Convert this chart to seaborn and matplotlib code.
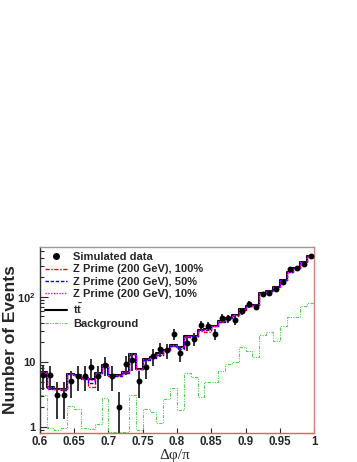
import numpy as np
import pandas as pd
import matplotlib
matplotlib.use("Agg")
import matplotlib.pyplot as plt
import matplotlib.ticker as mtick
from matplotlib.lines import Line2D
import seaborn as sns

# bins in dphi/pi, 0.01 wide from 0.6 to 1.0
binEdges = [round(v, 3) for v in np.linspace(0.6, 1.0, 41)]
binCenters = [round(0.5 * (a + b), 4) for a, b in zip(binEdges[:-1], binEdges[1:])]

dataValues = [6.2, 6.2, 3.1, 3.1, 5.1, 6.1, 6.1, 8.3, 6.1, 9.0,
              6.1, 2.0, 9.4, 10.6, 5.1, 8.3, 12.3, 15.7, 15.1, 26.5,
              13.7, 19.2, 22.6, 36.7, 35.4, 26.7, 47.5, 46.5, 43.7, 60,
              77, 70, 110, 115, 130, 166, 265, 274, 318, 422]
ttbarValues = [7.0, 4.1, 3.9, 3.8, 6.6, 6.3, 5.6, 5.5, 6.8, 8.9,
               6.2, 6.2, 6.9, 13.2, 7.9, 10.9, 11.7, 13.5, 15.5, 18,
               17, 24.8, 24.8, 30.7, 32.6, 35.5, 42, 47.5, 52, 64,
               72, 75, 115, 124, 140, 181, 243, 274, 346, 422]
zp100Values = [6.8, 3.9, 3.8, 3.7, 6.5, 6.2, 5.5, 4.1, 6.7, 8.7,
               6.0, 6.1, 6.8, 12.8, 7.8, 10.7, 11.5, 12.6, 15.2, 17.6,
               15.6, 24.3, 24.5, 30.2, 28.5, 35.0, 41.5, 47.0, 51.5, 63,
               71, 74, 114, 123, 139, 180, 242, 273, 345, 421]
zp50Values = [6.9, 4.0, 3.85, 3.75, 6.55, 6.25, 5.55, 4.75, 6.75, 8.8,
              6.1, 6.15, 6.85, 13.0, 7.85, 10.8, 11.6, 13.0, 15.3, 17.8,
              16.3, 24.5, 24.6, 30.4, 30.5, 35.2, 41.7, 47.2, 51.7, 63.5,
              71.5, 74.5, 114.5, 123.5, 139.5, 180.5, 242.5, 273.5, 345.5, 421.5]
zp10Values = [7.0, 4.1, 3.9, 3.8, 6.6, 6.3, 5.6, 5.3, 6.8, 8.9,
              6.2, 6.2, 6.9, 13.2, 7.9, 10.9, 11.7, 13.4, 15.5, 18,
              16.9, 24.8, 24.8, 30.7, 32.3, 35.5, 42, 47.5, 52, 64,
              72, 75, 115, 124, 140, 181, 243, 274, 346, 422]
bkgValues = [3.1, 0.95, 0.9, 0.95, 2.1, 1.9, 0.95, 0.92, 1.13, 2.8,
             0.85, 0.85, 0.85, 3.1, 0.89, 1.92, 1.7, 1.15, 2.7, 4.0,
             1.8, 6.8, 5.9, 2.9, 5.0, 5.0, 7.2, 9.4, 10.0, 17,
             14.8, 11.7, 25.8, 29, 21, 35, 49, 49, 72, 79]

xTicks = [0.6, 0.65, 0.7, 0.75, 0.8, 0.85, 0.9, 0.95, 1.0]
xTickLabels = ["0.6", "0.65", "0.7", "0.75", "0.8", "0.85", "0.9", "0.95", "1"]

sns.set_style("white")
plt.rcParams["font.family"] = ["Liberation Sans", "DejaVu Sans"]
plt.rcParams["mathtext.fontset"] = "custom"
plt.rcParams["mathtext.rm"] = "Liberation Sans:bold"
plt.rcParams["mathtext.bf"] = "Liberation Sans:bold"

fig = plt.figure(figsize=(3.57, 4.62), dpi=100, facecolor="white")
ax = fig.add_axes([40 / 357, 1 - 433 / 462, 274 / 357, 186 / 462])
ax.set_facecolor("white")

histStyles = [
    (ttbarValues, "black", "-", 1.5),
    (zp100Values, "#ff0000", (0, (3, 1.2, 1, 1.2)), 1.0),
    (zp50Values, "#0000ff", (0, (2.5, 1.2)), 1.0),
    (zp10Values, "#ff00ff", (0, (1, 1)), 1.0),
    (bkgValues, "#55d055", (0, (3, 1.2, 1, 1.2, 1, 1.2)), 0.8),
]
for vals, col, ls, lw in histStyles:
    df = pd.DataFrame({"dphi": binCenters, "w": vals})
    sns.histplot(data=df, x="dphi", weights="w", bins=binEdges, element="step", fill=False,
                 color=col, linestyle=ls, linewidth=lw, ax=ax)

dataErr = np.sqrt(dataValues)
ax.errorbar(binCenters, dataValues, yerr=dataErr, fmt="none", ecolor="#333333", elinewidth=1.4, zorder=5)
sns.scatterplot(x=binCenters, y=dataValues, color="black", s=18, edgecolor="black", linewidth=0, ax=ax, zorder=6)

ax.set_yscale("log")
ax.set_xlim(0.6, 1.0)
ax.set_ylim(0.81, 582)
ax.set_xticks(xTicks)
ax.set_xticklabels(xTickLabels, fontsize=8.3, fontweight="bold")
ax.yaxis.set_major_locator(mtick.FixedLocator([1, 10, 100]))
ax.yaxis.set_major_formatter(mtick.FixedFormatter(["1", "10", r"10$^{2}$"]))
ax.yaxis.set_minor_locator(mtick.LogLocator(base=10, subs=np.arange(2, 10)))
ax.yaxis.set_minor_formatter(mtick.NullFormatter())
for lab in ax.get_yticklabels():
    lab.set_fontsize(8.0)
    lab.set_fontweight("bold")
ax.xaxis.set_minor_locator(mtick.NullLocator())
ax.tick_params(axis="x", which="major", direction="in", length=3.5, width=0.8, pad=2.5, bottom=True)
ax.tick_params(axis="y", which="major", direction="in", length=6, width=0.8, pad=3, left=True)
ax.tick_params(axis="y", which="minor", direction="in", length=3, width=0.8, left=True)

ax.spines["top"].set_color("#999999")
ax.spines["left"].set_color("#333333")
ax.spines["right"].set_color("#d88080")
ax.spines["bottom"].set_color("#e06060")
for s in ax.spines.values():
    s.set_linewidth(1.0)

ax.set_xlabel("\u0394\u03c6/\u03c0", fontsize=11, va="top",
              family=["Liberation Serif", "DejaVu Serif"])
ax.xaxis.set_label_coords(0.49, (433 - 449) / 186)
ax.set_ylabel("Number of Events", fontsize=12.5, fontweight="bold")
ax.yaxis.set_label_coords((18 - 40) / 274, 0.5)

handles = [
    Line2D([], [], color="black", marker="o", markersize=4, linestyle="none"),
    Line2D([], [], color="#ff0000", linestyle=(0, (3, 1.2, 1, 1.2)), linewidth=1.0),
    Line2D([], [], color="#0000ff", linestyle=(0, (2.5, 1.2)), linewidth=1.0),
    Line2D([], [], color="#ff00ff", linestyle=(0, (1, 1)), linewidth=1.0),
    Line2D([], [], color="black", linestyle="-", linewidth=1.5),
    Line2D([], [], color="#55d055", linestyle=(0, (3, 1.2, 1, 1.2, 1, 1.2)), linewidth=0.8),
]
labels = ["Simulated data", "Z Prime (200 GeV), 100%", "Z Prime (200 GeV), 50%",
          "Z Prime (200 GeV), 10%", r"$\mathbf{t\bar{t}}$", "Background"]
leg = fig.legend(handles, labels, loc="upper left", bbox_to_anchor=(45 / 357, 1 - 252 / 462),
                 frameon=False, fontsize=8, handlelength=2.0, handletextpad=0.55,
                 labelspacing=0.22, borderpad=0, borderaxespad=0)
for t in leg.get_texts():
    t.set_fontweight("bold")

fig.savefig("out.png", dpi=100, facecolor="white")
